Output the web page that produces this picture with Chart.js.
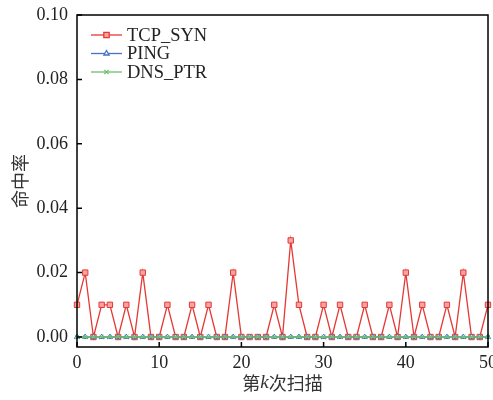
<!DOCTYPE html>
<html>
<head>
<meta charset="utf-8">
<script src="https://cdn.jsdelivr.net/npm/chart.js@4"></script>
<style>
  html, body { margin: 0; padding: 0; background: #fff; }
  #wrap { width: 493px; height: 400px; }
</style>
</head>
<body>
<div id="wrap"><canvas id="grafico"></canvas></div>
<script>
const scans = [];
for (let k = 0; k <= 50; k++) scans.push(k);

const tcpSyn = [0.01, 0.02, 0, 0.01, 0.01, 0, 0.01, 0, 0.02, 0,
  0, 0.01, 0, 0, 0.01, 0, 0.01, 0, 0, 0.02,
  0, 0, 0, 0, 0.01, 0, 0.03, 0.01, 0, 0,
  0.01, 0, 0.01, 0, 0, 0.01, 0, 0, 0.01, 0,
  0.02, 0, 0.01, 0, 0, 0.01, 0, 0.02, 0, 0,
  0.01];
const ping = [0, 0, 0, 0, 0, 0, 0, 0, 0, 0,
  0, 0, 0, 0, 0, 0, 0, 0, 0, 0,
  0, 0, 0, 0, 0, 0, 0, 0, 0, 0,
  0, 0, 0, 0, 0, 0, 0, 0, 0, 0,
  0, 0, 0, 0, 0, 0, 0, 0, 0, 0, 0];
const dnsPtr = [0, 0, 0, 0, 0, 0, 0, 0, 0, 0,
  0, 0, 0, 0, 0, 0, 0, 0, 0, 0,
  0, 0, 0, 0, 0, 0, 0, 0, 0, 0,
  0, 0, 0, 0, 0, 0, 0, 0, 0, 0,
  0, 0, 0, 0, 0, 0, 0, 0, 0, 0, 0];

const xTicks = [0, 10, 20, 30, 40, 50];
const yTicks = [0, 0.02, 0.04, 0.06, 0.08, 0.10];
const seriesNames = ["TCP_SYN", "PING", "DNS_PTR"];

const serif = "'Liberation Serif', 'Times New Roman', serif";
const cjk = "'Noto Sans CJK SC', sans-serif";

const pts = (arr) => arr.map((v, i) => ({ x: scans[i], y: v }));

const estilos = [
  { cor: "#e53935", fundo: "#f5a3a3", ponto: "rect", raio: 3.8 },
  { cor: "#4472c4", fundo: "#ffffff", ponto: "triangle", raio: 3 },
  { cor: "#6cbf6c", fundo: "#6cbf6c", ponto: "crossRot", raio: 3 },
];

// caixa, ticks para dentro, legenda e títulos
const moldura = {
  id: "moldura",
  afterDraw(chart) {
    const c = chart.ctx;
    const a = chart.chartArea;
    const xs = chart.scales.x, ys = chart.scales.y;
    c.save();
    c.strokeStyle = "#000";
    c.lineWidth = 1.5;
    c.strokeRect(a.left, a.top, a.right - a.left, a.bottom - a.top);
    c.beginPath();
    xTicks.forEach((t) => {
      const px = xs.getPixelForValue(t);
      c.moveTo(px, a.bottom);
      c.lineTo(px, a.bottom - 5);
    });
    yTicks.forEach((t) => {
      const py = ys.getPixelForValue(t);
      c.moveTo(a.left, py);
      c.lineTo(a.left + 5, py);
    });
    c.stroke();

    // legenda
    c.font = "18.5px " + serif;
    c.textBaseline = "middle";
    seriesNames.forEach((nome, i) => {
      const e = estilos[i];
      const y = 35 + i * 18.5;
      c.strokeStyle = e.cor;
      c.lineWidth = 1.3;
      c.beginPath();
      c.moveTo(91, y);
      c.lineTo(122, y);
      c.stroke();
      c.fillStyle = e.fundo;
      Chart.helpers.drawPoint(c, {
        pointStyle: e.ponto, radius: e.raio, borderWidth: 1
      }, 106.5, y);
      c.fillStyle = "#222";
      c.textAlign = "left";
      c.fillText(nome, 127, y + 1);
    });

    // título y
    c.fillStyle = "#333";
    c.save();
    c.translate(20, (a.top + a.bottom) / 2);
    c.rotate(-Math.PI / 2);
    c.font = "18px " + cjk;
    c.textAlign = "center";
    c.textBaseline = "middle";
    c.fillText("命中率", 0, 0);
    c.restore();

    // título x com k itálico
    const partes = [
      { t: "第", f: "18px " + cjk },
      { t: "k", f: "italic 19px " + serif },
      { t: "次扫描", f: "18px " + cjk },
    ];
    let total = 0;
    partes.forEach((p) => { c.font = p.f; p.w = c.measureText(p.t).width; total += p.w; });
    let x = (a.left + a.right) / 2 - total / 2;
    c.textAlign = "left";
    c.textBaseline = "middle";
    partes.forEach((p) => {
      c.font = p.f;
      c.fillText(p.t, x, 383);
      x += p.w;
    });
    c.restore();
  },
};

const datasets = [tcpSyn, ping, dnsPtr].map((d, i) => ({
  label: seriesNames[i],
  data: pts(d),
  borderColor: estilos[i].cor,
  backgroundColor: estilos[i].fundo,
  pointStyle: estilos[i].ponto,
  pointRadius: estilos[i].raio,
  pointBorderWidth: 1,
  pointBackgroundColor: estilos[i].fundo,
  pointBorderColor: estilos[i].cor,
  borderWidth: 1.3,
  clip: false,
  order: 3 - i,
}));

const ctx = document.getElementById("grafico").getContext("2d");
const grafico = new Chart(ctx, {
  type: "line",
  data: { datasets },
  options: {
    responsive: true,
    maintainAspectRatio: false,
    animation: false,
    layout: { padding: { top: 15, right: 4, left: 0, bottom: 0 } },
    plugins: { legend: { display: false }, tooltip: { enabled: false } },
    scales: {
      x: {
        type: "linear",
        min: 0,
        max: 50,
        afterBuildTicks: (s) => { s.ticks = xTicks.map((v) => ({ value: v })); },
        afterFit: (s) => { s.height = 53; s.paddingRight = 0; s.paddingLeft = 0; },
        grid: { display: false, drawTicks: false },
        border: { display: false },
        ticks: { font: { family: serif, size: 18 }, color: "#222", padding: 5, maxRotation: 0 },
      },
      y: {
        min: -0.0031,
        max: 0.1,
        afterBuildTicks: (s) => { s.ticks = yTicks.map((v) => ({ value: v })); },
        afterFit: (s) => { s.width = 77; s.paddingTop = 0; s.paddingBottom = 0; },
        grid: { display: false, drawTicks: false },
        border: { display: false },
        ticks: {
          font: { family: serif, size: 18 },
          color: "#222",
          padding: 9,
          callback: (v) => v.toFixed(2),
        },
      },
    },
  },
  plugins: [moldura],
});
</script>
</body>
</html>
